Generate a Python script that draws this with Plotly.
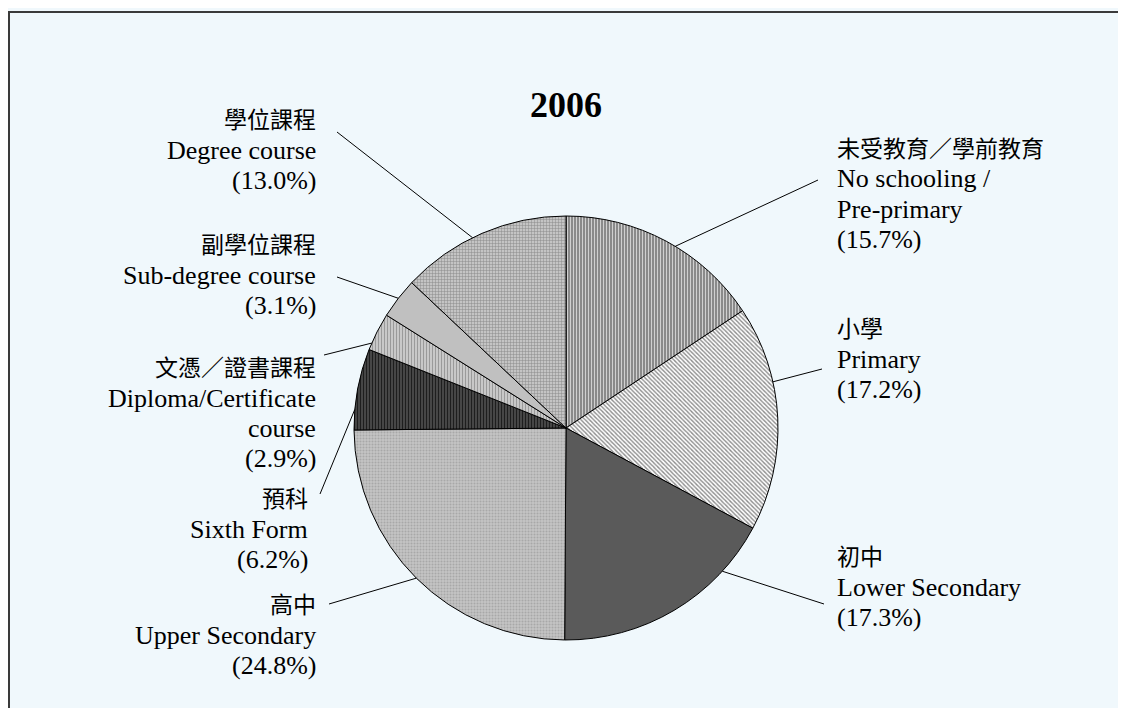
import math
import plotly.graph_objects as go

# ─── 데이터 ──────────────────────────────────────────
title_text = "2006"
labels_zh = ["未受教育／學前教育", "小學", "初中", "高中", "預科",
             "文憑／證書課程", "副學位課程", "學位課程"]
labels_en = [["No schooling /", "Pre-primary"], ["Primary"], ["Lower Secondary"],
             ["Upper Secondary"], ["Sixth Form"], ["Diploma/Certificate", "course"],
             ["Sub-degree course"], ["Degree course"]]
shares = [15.7, 17.2, 17.3, 24.8, 6.2, 2.9, 3.1, 13.0]

# ─── 스타일 ──────────────────────────────────────────
OFF = 8                      # body margin of the html page
W, H = 1126 - OFF, 708 - OFF
CX, CY, R = 566, 428, 212
BG = "#F0F8FC"
SERIF = "Liberation Serif, Times New Roman, serif"
CJK = "Noto Sans CJK TC"
FS, FS_CJK, LINE = 26, 23, 30.5

pat_shape = ["|", "\\", "", ".", "|", "|", "", "+"]
pat_bg = ["#8a8a8a", "#ffffff", "#5a5a5a", "#c4c4c4", "#4a4a4a", "#c8c8c8", "#c0c0c0", "#c4c4c4"]
pat_fg = ["#d0d0d0", "#8c8c8c", "#5a5a5a", "#a8a8a8", "#1e1e1e", "#9a9a9a", "#c0c0c0", "#8a8a8a"]
pat_solid = [0.35, 0.45, 0.3, 0.35, 0.4, 0.35, 0.3, 0.3]

# 라벨 배치: (앵커 x, 중문 줄 중심 y, 정렬, 리더선 끝점, 조각 내 리더선 위치)
label_pos = [
    (836, 147, "left", (818, 180), 0.55),
    (836, 327, "left", (822, 369), 0.34),
    (836, 555, "left", (824, 604), 0.23),
    (317, 603, "right", (329, 604), 0.50),
    (309, 497, "right", (320, 494), 0.25),
    (317, 366, "right", (324, 355), 0.18),
    (317, 243, "right", (337, 277), 0.50),
    (317, 118, "right", (337, 132), 0.44),
]


def px(x):
    return (x - OFF) / W


def py(y):
    return 1 - (y - OFF) / H


def text_ann(txt, x, y, side, family, size, bold=False):
    return dict(text=f"<b>{txt}</b>" if bold else txt, x=px(x), y=py(y),
                xref="paper", yref="paper", xanchor=side, yanchor="middle",
                align=side, showarrow=False, borderpad=0,
                font=dict(family=family, size=size, color="#000"))


fig = go.Figure(go.Pie(
    values=shares,
    labels=labels_zh,
    sort=False, direction="clockwise", rotation=0,
    textinfo="none", hoverinfo="label+percent",
    showlegend=False,
    marker=dict(
        colors=pat_bg,
        line=dict(color="#000000", width=1),
        pattern=dict(shape=pat_shape, bgcolor=pat_bg, fgcolor=pat_fg,
                     size=3, solidity=pat_solid, fillmode="replace"),
    ),
    domain=dict(x=[px(CX - R), px(CX + R)], y=[py(CY + R), py(CY - R)]),
))

shapes = [dict(type="rect", xref="paper", yref="paper",
               x0=px(9), y0=py(740), x1=px(1160), y1=py(12),
               fillcolor=BG, line=dict(color="#3a3a3a", width=2), layer="below")]
annotations = [text_ann(title_text, CX, 105, "center", SERIF, 36, bold=True)]

total = sum(shares)
cum = 0.0
for i, v in enumerate(shares):
    ax, cy, side, (ex, ey), frac = label_pos[i]
    ang = math.radians((cum + v * frac) / total * 360)
    sx, sy = CX + R * math.sin(ang), CY - R * math.cos(ang)
    cum += v
    shapes.append(dict(type="line", xref="paper", yref="paper",
                       x0=px(sx), y0=py(sy), x1=px(ex), y1=py(ey),
                       line=dict(color="#000000", width=1), layer="above"))
    annotations.append(text_ann(labels_zh[i], ax, cy, side, CJK, FS_CJK))
    lines = labels_en[i] + [f"({v:.1f}%)"]
    base = cy + 41
    for k, ln in enumerate(lines):
        # 베이스라인 기준 -> 텍스트 박스 중심
        annotations.append(text_ann(ln, ax, base + k * LINE - 9, side, SERIF, FS))

fig.update_layout(
    width=W, height=H,
    paper_bgcolor=BG, plot_bgcolor=BG,
    margin=dict(t=0, b=0, l=0, r=0),
    shapes=shapes, annotations=annotations,
)

fig.write_html("out.html")
